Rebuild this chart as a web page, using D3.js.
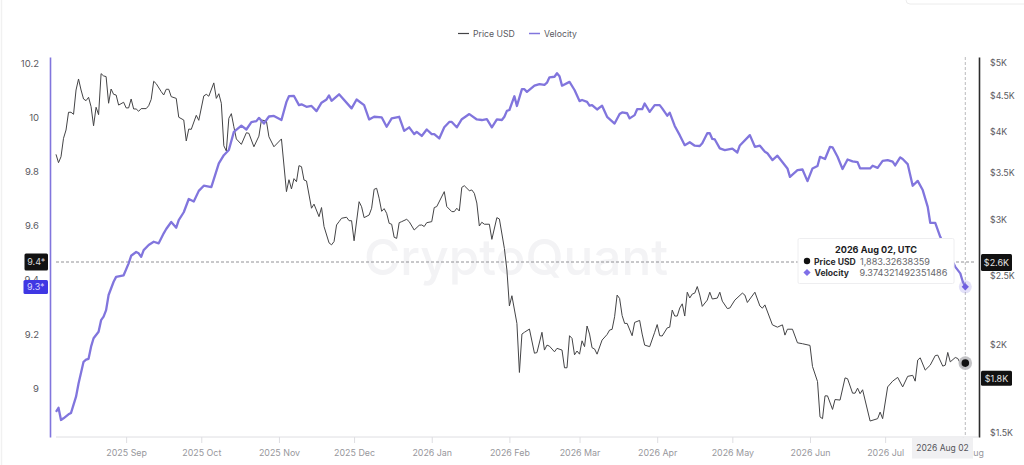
<!DOCTYPE html>
<html><head><meta charset="utf-8">
<script src="https://cdn.jsdelivr.net/npm/d3@7"></script>
<style>html,body{margin:0;padding:0;background:#fff;overflow:hidden}svg{display:block}text{font-family:Inter,"Noto Sans",sans-serif}</style>
</head><body><svg id="c" width="1024" height="465"></svg>
<script>
const seriesStart = "2025-08-04";
const priceDays = [0,1,2,3,4,5,6,7,8,9,10,11,12,13,14,15,16,17,18,19,20,21,22,23,24,25,27,28,29,30,31,32,33,34,36,37,38,39,40,42,43,44,45,46,48,49,51,52,53,54,56,57,59,60,61,63,64,65,66,67,68,69,70,71,72,74,76,77,79,81,82,84,85,87,90,92,93,94,95,96,97,98,99,100,102,103,105,106,107,109,110,111,112,113,114,116,117,118,119,121,122,123,125,126,127,128,129,130,131,132,133,134,135,136,137,138,140,141,143,145,146,147,148,150,151,152,155,156,158,159,160,161,162,163,165,166,167,168,169,170,171,173,174,176,177,179,180,181,182,184,185,186,187,189,191,192,194,195,196,197,199,200,202,203,204,205,206,207,208,209,210,211,212,213,214,215,216,218,220,221,222,223,224,225,226,227,228,230,231,233,234,235,237,239,240,241,242,244,245,246,247,248,249,250,251,252,253,254,255,256,257,258,260,261,262,264,265,266,268,269,271,274,275,276,279,281,282,283,286,288,290,291,292,294,296,298,301,302,304,305,306,307,308,310,311,313,315,316,318,319,320,321,322,325,328,329,330,332,334,336,338,340,342,343,344,345,347,349,351,352,354,355,356,357,359,360,362,363];
const priceValues = [3714,3615,3685,3913,4020,4259,4259,4231,4579,4746,4579,4447,4423,4472,4337,4076,4329,4226,4829,4794,4783,4386,4594,4515,4505,4360,4400,4320,4320,4447,4305,4305,4273,4310,4310,4351,4442,4711,4675,4555,4505,4590,4590,4481,4456,4191,4153,3880,4033,4029,4217,4149,4492,4515,4487,4686,4456,4524,4386,3819,3755,4176,4240,4063,3905,3837,3985,3977,3807,3941,4153,4140,3933,3807,3905,3290,3420,3319,3432,3398,3580,3568,3417,3406,3117,3159,3033,3124,2937,2785,2767,2797,2952,2984,3017,3027,2993,2993,2804,3184,3132,3023,3049,3117,3315,3326,3220,3086,3113,3066,2968,2959,2836,2826,2974,2984,3007,2984,2904,2949,2952,2937,2974,2984,3124,3134,3290,3134,3083,3083,3117,3089,3336,3354,3300,3308,3272,3170,2942,2978,2959,2959,2817,3023,3010,2735,2550,2268,2345,2143,1827,2070,2082,2104,1945,1949,2082,1965,1997,1990,1954,1976,1965,1855,1855,2059,2041,1935,1959,1939,2025,1987,2125,2070,1980,1972,1939,2030,2067,2097,2102,2190,2350,2324,2199,2143,2143,2059,2150,2164,2070,1997,1987,2082,2135,2059,2057,2112,2117,2238,2195,2195,2253,2284,2195,2372,2328,2358,2365,2416,2350,2265,2312,2372,2320,2327,2372,2304,2249,2253,2312,2365,2350,2294,2372,2268,2252,2276,2133,2117,2133,2063,2103,2103,2012,2006,1995,1863,1774,1581,1572,1693,1693,1620,1673,1670,1795,1790,1708,1708,1736,1705,1727,1560,1572,1606,1572,1743,1776,1798,1743,1804,1810,1776,1902,1916,1841,1871,1930,1933,1865,1871,1950,1891,1918,1912,1853,1883.33];
const velocityDays = [0,1,2,3,5,6,8,9,11,12,13,14,15,17,18,19,20,21,23,24,27,29,30,32,33,34,35,37,39,41,43,44,46,48,49,51,53,55,57,59,62,65,67,69,71,74,76,78,80,81,83,85,87,90,92,93,95,97,98,100,102,104,106,108,109,110,113,118,120,123,125,127,130,132,134,137,139,141,143,144,146,148,150,151,153,155,157,158,160,162,165,168,170,172,174,176,178,179,180,181,183,184,186,187,188,191,193,195,196,197,199,200,201,202,205,207,209,210,212,213,214,216,218,220,223,225,226,228,229,231,232,234,235,237,239,241,242,244,245,247,249,251,253,255,257,258,260,261,262,263,265,267,270,272,273,277,279,281,283,284,286,288,292,293,296,298,300,302,304,305,307,309,310,312,314,316,318,320,321,325,326,328,330,332,334,335,337,338,340,342,344,346,348,349,351,353,359,361,362,363];
const velocityValues = [8.912,8.927,8.882,8.888,8.903,8.908,8.968,9.017,9.097,9.105,9.108,9.153,9.184,9.208,9.251,9.264,9.288,9.344,9.393,9.411,9.417,9.461,9.489,9.503,9.498,9.485,9.51,9.529,9.541,9.535,9.572,9.588,9.614,9.593,9.621,9.65,9.699,9.69,9.729,9.748,9.743,9.831,9.861,9.88,9.947,9.97,9.956,9.983,9.987,9.999,9.978,10.004,10.006,9.991,10.058,10.079,10.08,10.046,10.049,10.04,10.043,10.024,10.055,10.067,10.082,10.062,10.086,10.034,10.067,10.046,9.993,10.003,10.001,9.966,9.997,10.003,9.951,9.964,9.939,9.947,9.932,9.956,9.939,9.939,9.923,9.964,9.984,9.984,9.964,9.994,10.013,9.993,9.991,9.994,9.964,9.993,9.991,10.003,10.025,10.028,10.079,10.043,10.105,10.105,10.095,10.118,10.124,10.121,10.129,10.149,10.151,10.164,10.153,10.118,10.132,10.102,10.061,10.065,10.058,10.044,10.046,10.03,10.044,10.003,9.978,10.013,10.019,10.016,9.997,10.009,10.031,10.031,10.052,10.021,10.046,10.046,10.034,10.007,10.018,9.969,9.935,9.898,9.909,9.896,9.895,9.905,9.942,9.942,9.921,9.919,9.886,9.88,9.885,9.871,9.897,9.935,9.892,9.896,9.874,9.868,9.843,9.859,9.812,9.781,9.806,9.808,9.765,9.812,9.821,9.855,9.847,9.892,9.89,9.855,9.81,9.845,9.838,9.835,9.812,9.812,9.822,9.814,9.84,9.843,9.837,9.823,9.853,9.847,9.828,9.748,9.766,9.732,9.67,9.611,9.611,9.559,9.448,9.424,9.393,9.3743];
const leftTicks = [9,9.2,9.4,9.6,9.8,10,10.2];
const rightTicks = [1500,2000,2500,3000,3500,4000,4500,5000];
const rightLabels = ["$1.5K","$2K","$2.5K","$3K","$3.5K","$4K","$4.5K","$5K"];
const monthTicks = ["2025-09-01","2025-10-01","2025-11-01","2025-12-01","2026-01-01","2026-02-01","2026-03-01","2026-04-01","2026-05-01","2026-06-01","2026-07-01","2026-08-01"];
const monthLabels = ["2025 Sep","2025 Oct","2025 Nov","2025 Dec","2026 Jan","2026 Feb","2026 Mar","2026 Apr","2026 May","2026 Jun","2026 Jul","2026 Aug"];
const crosshairVelocity = 9.466;
const hoverDay = 363;
const hoverPrice = "1,883.32638359", hoverVelocity = "9.374321492351486";

const svg = d3.select("#c");
const t0 = d3.isoParse(seriesStart+"T00:00:00Z");
const dayDate = d => d3.utcDay.offset(t0, d);
const x = d3.scaleUtc().domain([t0, dayDate(363)]).range([56,965.3]);
const yV = d3.scaleLinear().domain([8.819,10.224]).range([437,57]);
const yP = d3.scaleLog().domain([1481,5098]).range([437,57]);
const purple="#8175dd", dark="#444446", axisText="#5a5a5f";

// card edges
svg.append("line").attr("x1",1.5).attr("x2",1.5).attr("y1",0).attr("y2",465).attr("stroke","#f1f1f1").attr("stroke-width",1.5);
svg.append("rect").attr("x",906).attr("y",-8).attr("width",130).attr("height",12).attr("rx",4).attr("fill","#fff").attr("stroke","#ececec");

// watermark
svg.append("text").attr("x",516).attr("y",275).attr("text-anchor","middle").attr("font-size",49.5).attr("font-weight",500).attr("fill","#f3f3f5").text("CryptoQuant");

// legend
const lg = svg.append("g").attr("font-size",8.7).attr("fill",axisText);
lg.append("line").attr("x1",458).attr("x2",469).attr("y1",33.5).attr("y2",33.5).attr("stroke",dark).attr("stroke-width",1.2);
lg.append("text").attr("x",473).attr("y",36.7).text("Price USD");
lg.append("line").attr("x1",529).attr("x2",540).attr("y1",33.5).attr("y2",33.5).attr("stroke",purple).attr("stroke-width",1.5);
lg.append("text").attr("x",544).attr("y",36.7).text("Velocity");

// axes
const gx = svg.append("g").attr("transform","translate(0,437)");
gx.append("line").attr("x1",56).attr("x2",978).attr("stroke","#dedee2");
const xTicks = monthTicks.map(d3.isoParse);
gx.call(d3.axisBottom(x).tickValues(xTicks).tickFormat((d,i)=>monthLabels[i]).tickSize(6).tickPadding(7))
  .call(g=>g.select(".domain").remove())
  .call(g=>g.selectAll(".tick line").attr("stroke","#dedee2"))
  .call(g=>g.selectAll("text").attr("fill","#97979c").attr("font-size",8.9).attr("font-family","Inter"));

const gl = svg.append("g").attr("transform","translate(50,0)");
gl.call(d3.axisLeft(yV).tickValues(leftTicks).tickFormat(d3.format("~g")).tickSize(0).tickPadding(11))
  .call(g=>g.select(".domain").attr("stroke",purple).attr("stroke-width",1.6))
  .call(g=>g.selectAll("text").attr("fill",axisText).attr("font-size",9.5).attr("font-family","Inter"));

const gr = svg.append("g").attr("transform","translate(979,0)");
gr.call(d3.axisRight(yP).tickValues(rightTicks).tickFormat((d,i)=>rightLabels[i]).tickSize(0).tickPadding(11))
  .call(g=>g.select(".domain").attr("stroke","#2c2c2c").attr("stroke-width",1.6))
  .call(g=>g.selectAll("text").attr("fill",axisText).attr("font-size",8.8).attr("font-family","Inter"));

// crosshair
const cy = yV(crosshairVelocity);
svg.append("line").attr("x1",56).attr("x2",975).attr("y1",cy).attr("y2",cy).attr("stroke","#77777c").attr("stroke-width",0.8).attr("stroke-dasharray","3 2");
svg.append("line").attr("x1",x(dayDate(hoverDay))).attr("x2",x(dayDate(hoverDay))).attr("y1",57).attr("y2",437).attr("stroke","#a8a8ac").attr("stroke-width",0.8).attr("stroke-dasharray","3 2");

// series
const priceData = priceDays.map((d,i)=>({d,v:priceValues[i]}));
const velData = velocityDays.map((d,i)=>({d,v:velocityValues[i]}));
svg.append("path").datum(priceData).attr("fill","none").attr("stroke",dark).attr("stroke-width",1).attr("stroke-linejoin","round")
  .attr("d",d3.line().x(p=>x(dayDate(p.d))).y(p=>yP(p.v)));
svg.append("path").datum(velData).attr("fill","none").attr("stroke",purple).attr("stroke-width",2.3).attr("stroke-linejoin","round")
  .attr("d",d3.line().x(p=>x(dayDate(p.d))).y(p=>yV(p.v)));

// hover markers
const hx = x(dayDate(hoverDay));
const py = yP(priceValues[priceValues.length-1]), vy = yV(velocityValues[velocityValues.length-1]);
const rhomb = s => `M0,${-s}L${s},0L0,${s}L${-s},0Z`;
svg.append("circle").attr("cx",hx).attr("cy",py).attr("r",6.8).attr("fill","#bcbcc0").attr("opacity",.9);
svg.append("circle").attr("cx",hx).attr("cy",py).attr("r",3.8).attr("fill","#111");
svg.append("circle").attr("cx",hx).attr("cy",vy).attr("r",6.5).attr("fill",purple).attr("opacity",.22);
svg.append("path").attr("d",rhomb(3.6)).attr("transform",`translate(${hx},${vy})`).attr("fill","#6f5fe0");

// axis value flags
function flag(x0,w,yc,h,fill,txt,tc,fs){
  svg.append("rect").attr("x",x0).attr("y",yc-h/2).attr("width",w).attr("height",h).attr("rx",1.5).attr("fill",fill);
  svg.append("text").attr("x",x0+w/2).attr("y",yc+3.3).attr("text-anchor","middle").attr("font-size",fs||9).attr("fill",tc).text(txt);
}
flag(24.5,23.5,cy,17,"#121212","9.4*","#d8d8d8");
flag(23.5,24.5,yV(9.374),14,"#3f37e3","9.3*","#d9d6ff");
flag(981,31,cy+.5,17,"#111","$2.6K","#e4e4e4");
flag(981,31,yP(1790)-.5,15,"#111","$1.8K","#e4e4e4");
svg.append("rect").attr("x",912).attr("y",437.5).attr("width",61).attr("height",21).attr("fill","#f0f0f2");
svg.append("text").attr("x",942.5).attr("y",451).attr("text-anchor","middle").attr("font-size",8.5).attr("fill","#55555a").text("2026 Aug 02");

// tooltip
svg.append("rect").attr("x",798).attr("y",238.5).attr("width",156).attr("height",45).attr("rx",1.5).attr("fill","#fff").attr("stroke","#eeeef0");
const tt = svg.append("g").attr("font-size",9.1);
tt.append("text").attr("x",876).attr("y",253).attr("text-anchor","middle").attr("font-weight",700).attr("fill","#1c1c1e").text("2026 Aug 02, UTC");
tt.append("circle").attr("cx",807).attr("cy",261).attr("r",3.2).attr("fill","#111");
tt.append("text").attr("x",814).attr("y",264.5).attr("font-weight",700).attr("font-size",8.6).attr("fill","#2b2b2e").text("Price USD");
tt.append("text").attr("x",860).attr("y",264.5).attr("fill","#66666b").text(hoverPrice);
tt.append("path").attr("d",rhomb(3.6)).attr("transform","translate(807,272.5)").attr("fill","#7f6fe8");
tt.append("text").attr("x",814.5).attr("y",276).attr("font-weight",700).attr("font-size",8.6).attr("fill","#2b2b2e").text("Velocity");
tt.append("text").attr("x",859.5).attr("y",276).attr("fill","#66666b").text(hoverVelocity);
</script></body></html>
